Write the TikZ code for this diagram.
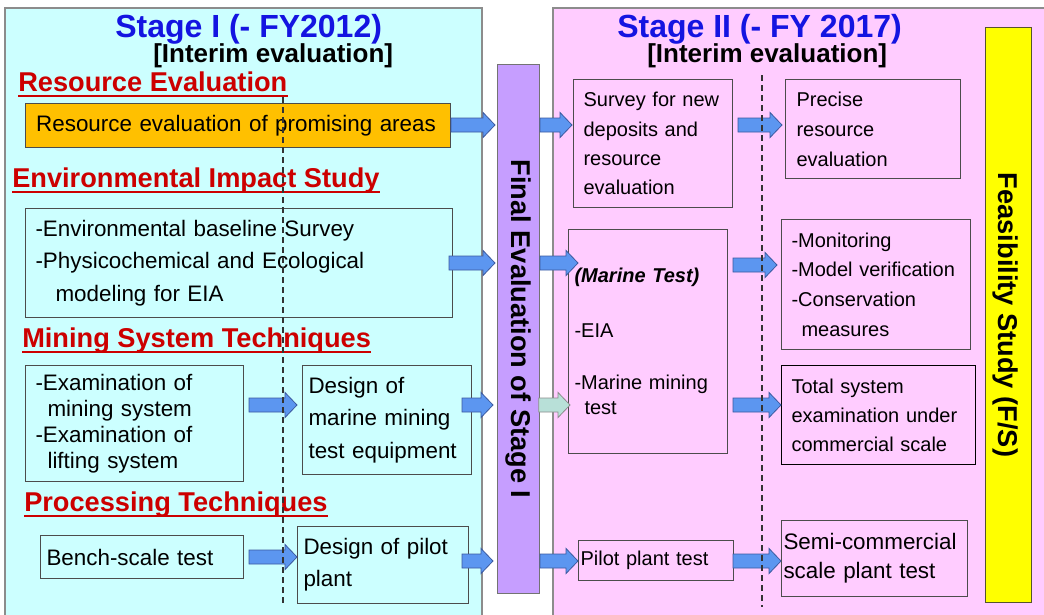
\documentclass[tikz,border=0pt]{standalone}
\usepackage{fontspec}
\setmainfont{Liberation Sans}
\usetikzlibrary{calc}
\definecolor{cyanbg}{RGB}{204,255,255}
\definecolor{pinkbg}{RGB}{255,204,255}
\definecolor{purp}{RGB}{198,158,255}
\definecolor{orng}{RGB}{255,192,0}
\definecolor{yell}{RGB}{255,255,0}
\definecolor{arrb}{RGB}{92,150,240}
\definecolor{arrbd}{RGB}{60,90,160}
\definecolor{arrl}{RGB}{184,224,216}
\definecolor{ttlblue}{RGB}{20,20,225}
\definecolor{hred}{RGB}{204,0,0}
\tikzset{
  bx/.style={draw=black!70, line width=0.8pt, align=left, anchor=north west, inner ysep=0pt},
  fl/.style={font=\fontsize{16.8}{#1}\selectfont},
  fr/.style={font=\fontsize{15}{#1}\selectfont},
  hd/.style={anchor=base west, inner sep=0pt, text=hred, font=\fontsize{20.4}{24}\selectfont\bfseries},
  ttl/.style={anchor=base west, inner sep=0pt, text=ttlblue, font=\fontsize{24}{28}\selectfont\bfseries},
  intr/.style={anchor=base west, inner sep=0pt, font=\fontsize{19.5}{24}\selectfont\bfseries},
  uline/.style={hred, line width=1.4pt},
  blk/.style={fill=arrb, draw=arrbd, line width=0.6pt},
  blkl/.style={fill=arrl, draw=black!45, line width=0.6pt},
  bar/.style={anchor=north west, line width=0.8pt, inner sep=0pt},
  vtxt/.style={rotate=-90, font=\fontsize{20.4}{24}\selectfont\bfseries, inner sep=0pt},
  dsh/.style={dashed, dash pattern=on 4.5pt off 3pt, line width=0.8pt, black!80}
}
\newcommand\barrow[4][blk]{\draw[#1] let \p1=#2, \p2=#3, \p3=(0,#4) in
  (\x1,\y3+5.25pt) -- (\x2-9pt,\y3+5.25pt) -- (\x2-9pt,\y3+9.4pt) -- (\x2,\y3)
  -- (\x2-9pt,\y3-9.4pt) -- (\x2-9pt,\y3-5.25pt) -- (\x1,\y3-5.25pt) -- cycle;}
\begin{document}
\begin{tikzpicture}[x=0.75pt,y=-0.75pt]
\useasboundingbox (0,0) rectangle (1044,614);
% panels
\fill[cyanbg] (5,8) rectangle (482,620);
\draw[black!45, line width=0.8pt] (5,620) -- (5,8) -- (482,8) -- (482,620);
\fill[pinkbg] (553,8) rectangle (1050,620);
\draw[black!45, line width=0.8pt] (553,620) -- (553,8) -- (1050,8);
% titles
\node[ttl] (t1) at (115,37) {Stage I (- FY2012)};
\node[intr] (i1) at (153,62) {[Interim evaluation]};
\node[ttl] (t2) at (617,37) {Stage II (- FY 2017)};
\node[intr] (i2) at (647,62) {[Interim evaluation]};
% headings
\node[hd] (h1) at (18,91) {Resource Evaluation};
\node[hd] (h2) at (12,187) {Environmental Impact Study};
\node[hd] (h3) at (22,347) {Mining System Techniques};
\node[hd] (h4) at (24,511) {Processing Techniques};
\foreach \h in {h1,h2,h3,h4}
  \draw[uline] ([yshift=-3.5pt]\h.base west) -- ([yshift=-3.5pt]\h.base east);
% bars
\node[bar, draw=black!55, fill=purp, minimum width=31.5pt, minimum height=396.75pt] (fe) at (497,64) {};
\node[vtxt] (fet) at (fe.center) {Final Evaluation of Stage I};
\node[bar, draw=black!50!olive, fill=yell, minimum width=34.5pt, minimum height=431.25pt] (fs) at (985,27) {};
\node[vtxt] (fst) at ([xshift=-2pt]fs.center) {Feasibility Study (F/S)};
% stage I boxes
\node[bx, fill=orng, fl=20, minimum width=318.75pt, minimum height=33pt, text width=302.75pt, inner xsep=8pt] (res) at (25,103)
  {Resource evaluation of promising areas};
\node[bx, fl=24.4, minimum width=320.25pt, minimum height=81.75pt, text width=305.25pt, inner xsep=7.5pt] (env) at (25,208)
  {-Environmental baseline Survey\\-Physicochemical and Ecological\\\hspace*{15pt}modeling for EIA};
\node[bx, fl=19.5, minimum width=163.5pt, minimum height=87pt, text width=148.5pt, inner xsep=7.5pt] (mine1) at (25,365)
  {-Examination of\\\hspace*{9pt}mining system\\-Examination of\\\hspace*{9pt}lifting system};
\node[bx, fl=24.4, minimum width=126.75pt, minimum height=81.75pt, text width=117.75pt, inner xsep=4.5pt] (design) at (302,365)
  {Design of\\marine mining\\test equipment};
\node[bx, fl=20, minimum width=152.25pt, minimum height=32.25pt, text width=143.25pt, inner xsep=4.5pt] (bench) at (40,535)
  {Bench-scale test};
\node[bx, fl=24, minimum width=128.25pt, minimum height=57.75pt, text width=119.25pt, inner xsep=4.5pt] (pilotd) at (297,526)
  {Design of pilot\\plant};
% stage II boxes
\node[bx, fr=22, minimum width=119.25pt, minimum height=96pt, text width=104.25pt, inner xsep=7.5pt] (survey) at (573,79)
  {Survey for new\\deposits and\\resource\\evaluation};
\node[bx, fr=22.5, minimum width=131.25pt, minimum height=74.25pt, text width=114.75pt, inner xsep=8.25pt] (precise) at (785,79)
  {Precise\\resource\\evaluation};
\node[bx, fr=18.75, minimum width=119.25pt, minimum height=168pt, text width=110.25pt, inner xsep=4.5pt] (marine) at (568,229)
  {{\bfseries\itshape (Marine Test)}\\[22.5pt]-EIA\\[20.25pt]-Marine mining\\\hspace*{7.5pt}test};
\node[bx, fr=22.3, minimum width=141.75pt, minimum height=97.5pt, text width=126.75pt, inner xsep=7.5pt] (monitor) at (781,219)
  {-Monitoring\\-Model verification\\-Conservation\\\hspace*{7.5pt}measures};
\node[bx, fr=21.8, minimum width=145.5pt, minimum height=74.25pt, text width=130.5pt, inner xsep=7.5pt, draw=black] (total) at (781,365)
  {Total system\\examination under\\commercial scale};
\node[bx, fr=18, minimum width=116.25pt, minimum height=30pt, text width=113.25pt, inner xsep=1.5pt] (pilott) at (578,540)
  {Pilot plant test};
\node[bx, fl=21.8, minimum width=139.5pt, minimum height=57pt, text width=136.5pt, inner xsep=1.5pt] (semi) at (781,520)
  {Semi-commercial\\scale plant test};
% block arrows
\barrow{(res.east)}{([xshift=-1.5pt]fe.west)}{125}
\barrow{([xshift=-3pt]env.east)}{([xshift=-1.5pt]fe.west)}{263}
\barrow{([xshift=3.75pt]mine1.east)}{([xshift=-3.75pt]design.west)}{405}
\barrow{([xshift=-7.5pt]design.east)}{([xshift=-3pt]fe.west)}{405}
\barrow{([xshift=3.75pt]bench.east)}{(pilotd.west)}{557}
\barrow{([xshift=-5.25pt]pilotd.east)}{([xshift=-3pt]fe.west)}{561}
\barrow{(fe.east)}{([xshift=-0.75pt]survey.west)}{125}
\barrow{([xshift=3.75pt]survey.east)}{([xshift=-2.25pt]precise.west)}{125}
\barrow{(fe.east)}{([xshift=7.5pt]marine.west)}{263}
\barrow[blkl]{([xshift=-1pt]fe.east)}{([xshift=1.5pt]marine.west)}{405}
\barrow{([xshift=3.75pt]marine.east)}{([xshift=-3pt]monitor.west)}{265}
\barrow{([xshift=3.75pt]marine.east)}{(total.west)}{405}
\barrow{(fe.east)}{(pilott.west)}{561}
\barrow{([xshift=-0.75pt]pilott.east)}{(semi.west)}{561}
% dashed dividers
\coordinate (d1a) at (283,97); \coordinate (d1b) at (283,607);
\coordinate (d2a) at (762,75); \coordinate (d2b) at (762,607);
\draw[dsh] (d1a) -- (d1b);
\draw[dsh] (d2a) -- (d2b);
\end{tikzpicture}
\end{document}
